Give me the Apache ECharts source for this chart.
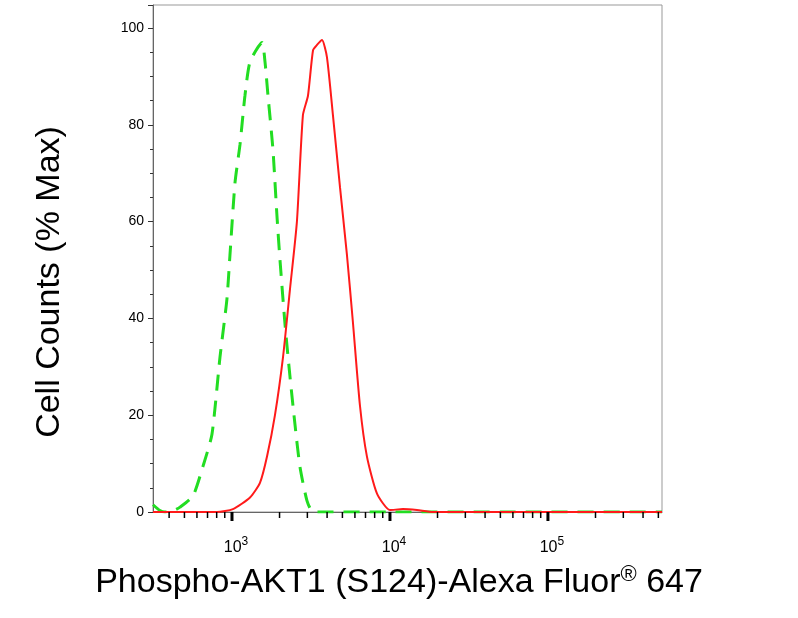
<!DOCTYPE html>
<html><head><meta charset="utf-8">
<script src="https://cdn.jsdelivr.net/npm/echarts@6/dist/echarts.min.js"></script>
<style>html,body{margin:0;padding:0;background:#fff}#c{width:798px;height:618px}</style>
</head><body><div id="c"></div>
<script>
// fluorescence intensity (log10) and % max
const isoX = [2.5,2.544,2.576,2.63,2.671,2.753,2.816,2.873,2.924,2.968,2.987,3.019,3.051,3.082,3.114,3.19,3.209,3.228,3.259,3.285,3.304,3.335,3.367,3.399,3.43,3.475,3.513,3.6,4.0,5.0,5.722];
const isoY = [1.5,0.3,0,0.3,1,3.3,9.4,16,32,44,53,68,76,86,93,97,93,86,75,61,52,39,28,18,9.4,2.3,0,0,0,0,0];
const redX = [2.5,2.905,3.006,3.114,3.177,3.222,3.272,3.323,3.367,3.411,3.449,3.481,3.513,3.538,3.57,3.601,3.639,3.684,3.728,3.766,3.81,3.854,3.918,4.0,4.082,4.171,4.272,5.722];
const redY = [0,0,0.6,3,6,11.5,20,32,46,60,82,86,95.4,96.5,97.5,94,82,67,53,39,22,11.5,3.8,0.4,0.6,0.4,0,0];
const majorTicks = [1000,10000,100000];
const majorLabels = ['3','4','5'];
const minorTicks = [400,500,600,700,800,900,2000,3000,4000,5000,6000,7000,8000,9000,20000,30000,40000,50000,60000,70000,80000,90000,200000,300000,400000,500000];
const yTicks = [0,20,40,60,80,100];

const chart = echarts.init(document.getElementById('c'));
const tickData = majorTicks.map((v,i)=>[Math.log10(v),1,majorLabels[i]]).concat(minorTicks.map(v=>[Math.log10(v),0,'']));
chart.setOption({
  animation:false,
  grid:{left:153,top:5,width:509,height:507,show:true,borderColor:'#999',borderWidth:1},
  xAxis:{type:'value',min:2.5,max:5.722,axisLine:{show:true,onZero:false,lineStyle:{color:'#666'}},axisTick:{show:false},axisLabel:{show:false},splitLine:{show:false}},
  yAxis:{type:'value',min:0,max:104.75,interval:20,
    axisLine:{show:true,lineStyle:{color:'#666'}},
    axisTick:{show:true,length:5,lineStyle:{color:'#333'}},
    minorTick:{show:true,splitNumber:4,length:3,lineStyle:{color:'#333'}},
    axisLabel:{color:'#000',fontFamily:'Liberation Sans',fontSize:14,margin:9,showMaxLabel:false},
    splitLine:{show:false}},
  series:[
    {type:'line',data:isoX.map((x,i)=>[x,isoY[i]]),smooth:0.2,showSymbol:false,
     lineStyle:{color:'#22dd22',width:3,type:[16,10]},z:3},
    {type:'line',data:redX.map((x,i)=>[x,redY[i]]),smooth:0.2,showSymbol:false,
     lineStyle:{color:'#ff1a1a',width:2},z:4},
    {type:'custom',clip:false,data:tickData,z:5,
     renderItem:function(params,api){
       const p=api.coord([api.value(0),0]);
       const major=api.value(1)===1;
       const children=[{type:'line',shape:{x1:p[0],y1:p[1],x2:p[0],y2:p[1]+(major?9:6)},
          style:{stroke:'#000',lineWidth:major?3:1.5}}];
       if(major){
         children.push({type:'text',style:{x:p[0]+4,y:p[1]+36,align:'center',verticalAlign:'middle',
           text:'10{s|'+api.value(2)+'}',
           rich:{s:{fontSize:12,verticalAlign:'top',padding:[0,0,12,0],fontFamily:'Liberation Sans'}},
           font:'16px Liberation Sans',fill:'#000'}});
       }
       return {type:'group',children:children};
     }}
  ],
  graphic:[
    {type:'text',left:'center',top:564,style:{text:'Phospho-AKT1 (S124)-Alexa Fluor{s|®} 647',
      font:'34px Liberation Sans',fill:'#000',
      rich:{s:{fontSize:22,verticalAlign:'top',padding:[0,0,16,0],fontFamily:'Liberation Sans'}}}},
    {type:'text',x:50,y:282,rotation:Math.PI/2,style:{text:'Cell Counts (% Max)',font:'34px Liberation Sans',fill:'#000',align:'center',verticalAlign:'middle'}}
  ]
});
</script></body></html>
